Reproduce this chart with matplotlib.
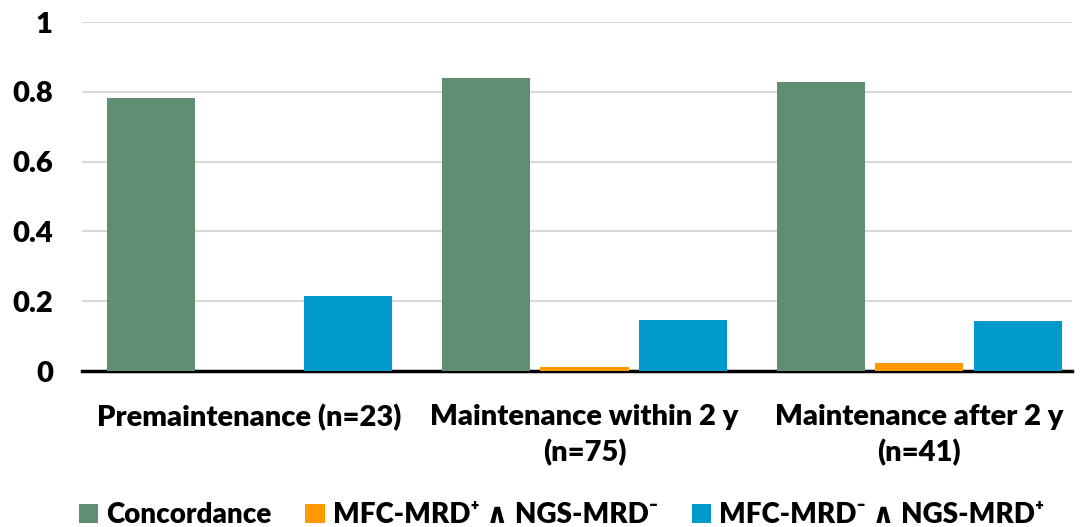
import numpy as np
import matplotlib.pyplot as plt

categories = ['Premaintenance (n=23)', 'Maintenance within 2 y\n(n=75)', 'Maintenance after 2 y\n(n=41)']
concordance = [0.782, 0.840, 0.828]
mfc_pos_ngs_neg = [0.0, 0.012, 0.023]
mfc_neg_ngs_pos = [0.215, 0.146, 0.143]
series_labels = ['Concordance', 'MFC-MRD⁺ ∧ NGS-MRD⁻', 'MFC-MRD⁻ ∧ NGS-MRD⁺']
colors = ['#5F8F73', '#FF9900', '#0099CC']

plt.rcParams['font.family'] = ['Lato', 'DejaVu Sans']
plt.rcParams['font.weight'] = 'heavy'

fig, ax = plt.subplots(figsize=(10.8, 5.27), dpi=100)
x = np.arange(len(categories))
w = 0.263
step = 0.294
for i, vals in enumerate([concordance, mfc_pos_ngs_neg, mfc_neg_ngs_pos]):
    ax.bar(x + (i - 1) * step, vals, width=w, color=colors[i], label=series_labels[i], zorder=3)

ax.set_xlim(-0.5, 2.457)
ax.set_ylim(0, 1)
ax.set_yticks([0, 0.2, 0.4, 0.6, 0.8, 1])
ax.set_yticklabels(['0', '0.2', '0.4', '0.6', '0.8', '1'])
ax.yaxis.grid(True, color='#D9D9D9', linewidth=1.5, zorder=0)
ax.set_xticks(x)
ax.set_xticklabels(categories, linespacing=1.4)
ax.tick_params(axis='both', length=0, labelsize=21)
ax.tick_params(axis='y', pad=21)
ax.tick_params(axis='x', pad=24)
for s in ['top', 'right', 'left']:
    ax.spines[s].set_visible(False)
ax.spines['bottom'].set_linewidth(2.5)
ax.spines['bottom'].set_color('black')

fig.legend(loc='lower center', ncol=3, frameon=False, fontsize=20,
           bbox_to_anchor=(0.52, -0.05), handlelength=0.7, handleheight=0.7,
           handletextpad=0.3, columnspacing=1.2)
fig.subplots_adjust(left=0.076, right=0.993, top=0.958, bottom=0.296)
fig.savefig('out.png', dpi=100)
